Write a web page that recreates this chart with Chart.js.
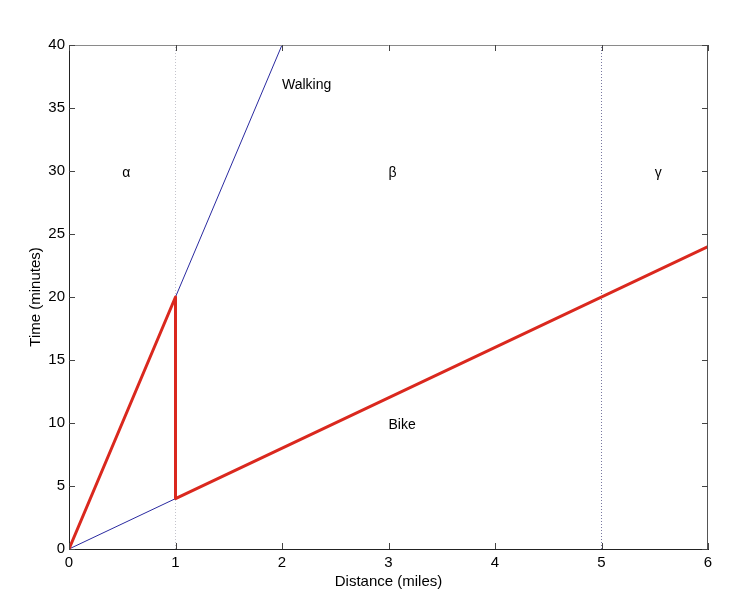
<!DOCTYPE html>
<html>
<head>
<meta charset="utf-8">
<script src="https://cdn.jsdelivr.net/npm/chart.js@4/dist/chart.umd.min.js"></script>
<style>
  html, body { margin: 0; padding: 0; background: #fff; }
  canvas { display: block; }
</style>
</head>
<body>
<canvas id="chart" width="750" height="602"></canvas>
<script>
// dados do grafico
const walkX = [0, 2];
const walkY = [0, 40];
const bikeThinX = [0, 6];
const bikeThinY = [0, 24];
const routeX = [0, 1, 1, 6];
const routeY = [0, 20, 4, 24];
const zoneBorders = [1, 5];
const xTicks = [0, 1, 2, 3, 4, 5, 6];
const yTicks = [0, 5, 10, 15, 20, 25, 30, 35, 40];

// rotulos dentro do grafico
const noteTexts = ['Walking', 'α', 'β', 'γ', 'Bike'];
const noteX = [2, 0.5, 3, 5.5, 3];
const noteY = [37, 30, 30, 30, 10];

const FONT = '"Liberation Sans", Arial, sans-serif';

function pts(xs, ys) {
    return xs.map((x, i) => ({ x: x, y: ys[i] }));
}

// ticks para dentro, nos quatro lados, e textos
const insidePlugin = {
    id: 'inside',
    afterDatasetsDraw(chart) {
        const ctx = chart.ctx;
        const a = chart.chartArea;
        const sx = chart.scales.x;
        const sy = chart.scales.y;
        ctx.save();

        // caixa de cima e da direita
        ctx.lineWidth = 1;
        ctx.strokeStyle = '#8a8a8a';
        ctx.beginPath();
        ctx.moveTo(a.left, a.top + 0.5);
        ctx.lineTo(a.right, a.top + 0.5);
        ctx.stroke();
        ctx.strokeStyle = '#555';
        ctx.beginPath();
        ctx.moveTo(a.right - 0.5, a.top);
        ctx.lineTo(a.right - 0.5, a.bottom);
        ctx.stroke();

        ctx.strokeStyle = '#444';
        xTicks.forEach(v => {
            const px = Math.round(sx.getPixelForValue(v)) + 0.5;
            ctx.beginPath();
            ctx.moveTo(px, a.bottom);
            ctx.lineTo(px, a.bottom - 6);
            ctx.moveTo(px, a.top);
            ctx.lineTo(px, a.top + 6);
            ctx.stroke();
        });
        yTicks.forEach(v => {
            const py = Math.round(sy.getPixelForValue(v)) + 0.5;
            ctx.beginPath();
            ctx.moveTo(a.left, py);
            ctx.lineTo(a.left + 6, py);
            ctx.moveTo(a.right, py);
            ctx.lineTo(a.right - 6, py);
            ctx.stroke();
        });

        ctx.fillStyle = '#000';
        ctx.font = '14px ' + FONT;
        ctx.textAlign = 'left';
        ctx.textBaseline = 'middle';
        noteTexts.forEach((t, i) => {
            ctx.fillText(t, sx.getPixelForValue(noteX[i]), sy.getPixelForValue(noteY[i]) + 2);
        });
        ctx.restore();
    }
};

const datasets = [
    {
        label: 'Bike route',
        data: pts(routeX, routeY),
        borderColor: 'rgb(218, 40, 30)',
        borderWidth: 3,
        borderJoinStyle: 'round',
        order: 1
    },
    {
        label: 'Bike',
        data: pts(bikeThinX, bikeThinY),
        borderColor: '#2a2aa0',
        borderWidth: 1,
        order: 2
    },
    {
        label: 'Walking',
        data: pts(walkX, walkY),
        borderColor: '#2a2aa0',
        borderWidth: 1,
        order: 3
    }
];

const dotColors = ['#c4c4cc', '#7878a0'];
zoneBorders.forEach((b, i) => {
    datasets.push({
        label: 'zone ' + b,
        data: pts([b, b], [0, 40]),
        borderColor: dotColors[i],
        borderWidth: 1,
        borderDash: [1, 2],
        order: 4
    });
});

datasets.forEach(d => {
    d.showLine = true;
    d.pointRadius = 0;
    d.fill = false;
});

new Chart(document.getElementById('chart').getContext('2d'), {
    type: 'scatter',
    data: { datasets: datasets },
    options: {
        responsive: false,
        animation: false,
        layout: { padding: { top: 45, right: 42, left: 0, bottom: 0 } },
        plugins: {
            legend: { display: false },
            tooltip: { enabled: false }
        },
        scales: {
            x: {
                type: 'linear',
                min: 0,
                max: 6,
                afterFit: s => { s.height = 53; },
                afterBuildTicks: s => { s.ticks = xTicks.map(v => ({ value: v })); },
                ticks: { color: '#000', padding: 5, maxRotation: 0, font: { family: FONT, size: 15 } },
                grid: { drawOnChartArea: false, drawTicks: false },
                border: { color: '#222', width: 1 },
                title: {
                    display: true,
                    text: 'Distance (miles)',
                    color: '#000',
                    font: { family: FONT, size: 15 },
                    padding: { top: 0, bottom: 11 }
                }
            },
            y: {
                type: 'linear',
                min: 0,
                max: 40,
                afterFit: s => { s.width = 69; },
                afterBuildTicks: s => { s.ticks = yTicks.map(v => ({ value: v })); },
                ticks: { color: '#000', padding: 4, font: { family: FONT, size: 15 } },
                grid: { drawOnChartArea: false, drawTicks: false },
                border: { color: '#222', width: 1 },
                title: {
                    display: true,
                    text: 'Time (minutes)',
                    color: '#000',
                    font: { family: FONT, size: 15 },
                    padding: { top: 27, bottom: 0 }
                }
            }
        }
    },
    plugins: [insidePlugin]
});
</script>
</body>
</html>
